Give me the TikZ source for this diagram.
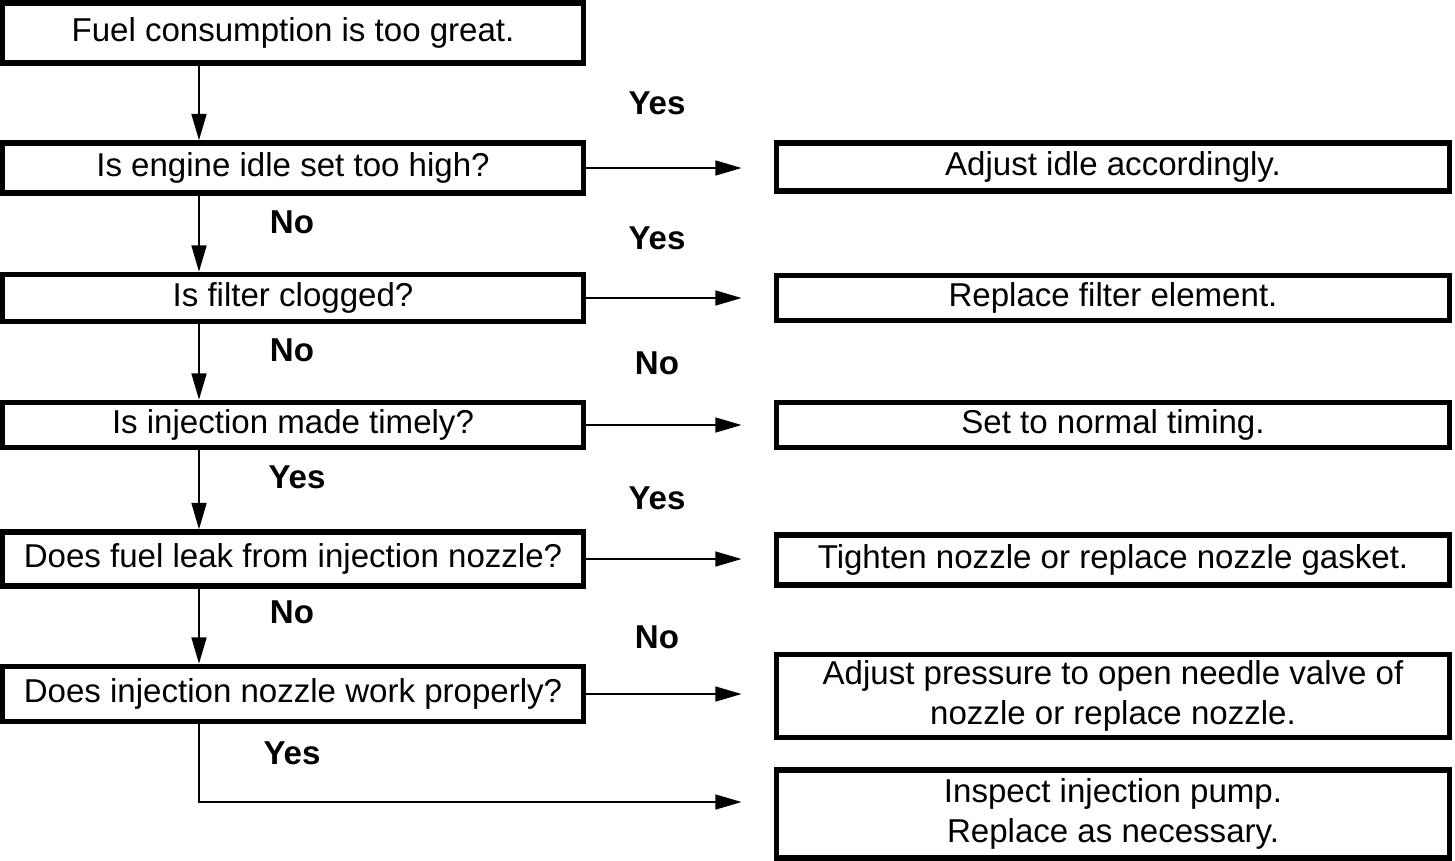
\documentclass[tikz,border=0pt]{standalone}
\usepackage{fontspec}
\setmainfont{Liberation Sans}
\usetikzlibrary{arrows.meta}

\tikzset{
  box/.style={draw, line width=1.5pt, minimum width=5.8cm, minimum height=0.5cm,
    inner sep=0pt, align=center, font=\fontsize{9.4}{11.6}\selectfont},
  fix/.style={box, minimum width=6.73cm},
  answer/.style={font=\fontsize{9.4}{11}\selectfont\bfseries},
  flow/.style={->, line width=0.65pt},
}

\begin{document}
\begin{tikzpicture}[x=0.01cm, y=-0.01cm, >={Triangle[length=7.5pt,width=4.2pt]}]

    % Page frame
    \useasboundingbox (0,0) rectangle (1455,860);

    % Spine of the checks and the turn at the bottom
    \coordinate (spine) at (199,0);
    \coordinate (turn) at (199,802);

    % Checks (left column)
    \node[box, minimum height=0.6cm] (fuel) at (293,33) {Fuel consumption is too great.};
    \node[box] (idle)   at (293,168) {Is engine idle set too high?};
    \node[box, minimum height=0.47cm] (filter) at (293,298) {Is filter clogged?};
    \node[box, minimum height=0.45cm] (timing) at (293,425) {Is injection made timely?};
    \node[box, minimum height=0.54cm] (leak)   at (293,559) {Does fuel leak from injection nozzle?};
    \node[box, minimum height=0.55cm] (nozzle) at (293,694) {Does injection nozzle work properly?};

    % Remedies (right column)
    \node[fix, minimum height=0.48cm] (adjidle)  at (1113,167) {Adjust idle accordingly.};
    \node[fix, minimum height=0.45cm] (element)  at (1113,298) {Replace filter element.};
    \node[fix, minimum height=0.45cm] (settime)  at (1113,425) {Set to normal timing.};
    \node[fix, minimum height=0.50cm] (gasket)   at (1113,560) {Tighten nozzle or replace nozzle gasket.};
    \node[fix, minimum height=0.83cm] (pressure) at (1113,696)
      {Adjust pressure to open needle valve of\\ nozzle or replace nozzle.};
    \node[fix, minimum height=0.88cm] (pump)     at (1113,814)
      {Inspect injection pump.\\ Replace as necessary.};

    % Down the spine
    \draw[flow] (fuel.south -| spine) -- (idle.north -| spine);
    \draw[flow] (idle.south -| spine) -- (filter.north -| spine);
    \draw[flow] (filter.south -| spine) -- (timing.north -| spine);
    \draw[flow] (timing.south -| spine) -- (leak.north -| spine);
    \draw[flow] (leak.south -| spine) -- (nozzle.north -| spine);

    % Across to the remedies
    \draw[flow, shorten >=0.32cm] (idle.east) -- (idle.east -| adjidle.west);
    \draw[flow, shorten >=0.32cm] (filter.east) -- (filter.east -| element.west);
    \draw[flow, shorten >=0.32cm] (timing.east) -- (timing.east -| settime.west);
    \draw[flow, shorten >=0.32cm] (leak.east) -- (leak.east -| gasket.west);
    \draw[flow, shorten >=0.32cm] (nozzle.east) -- (nozzle.east -| pressure.west);
    \draw[flow, shorten >=0.32cm] (nozzle.south -| turn) -- (turn) -- (turn -| pump.west);

    % Answers on the branches
    \node[answer] (yes1) at (657,103) {Yes};
    \node[answer] (yes2) at (657,238) {Yes};
    \node[answer] (no3)  at (657,363) {No};
    \node[answer] (yes4) at (657,498) {Yes};
    \node[answer] (no5)  at (657,637) {No};

    \node[answer] (no1)  at (292,222) {No};
    \node[answer] (no2)  at (292,350) {No};
    \node[answer] (yes3) at (297,477) {Yes};
    \node[answer] (no4)  at (292,612) {No};
    \node[answer] (yes5) at (292,753) {Yes};

\end{tikzpicture}
\end{document}
